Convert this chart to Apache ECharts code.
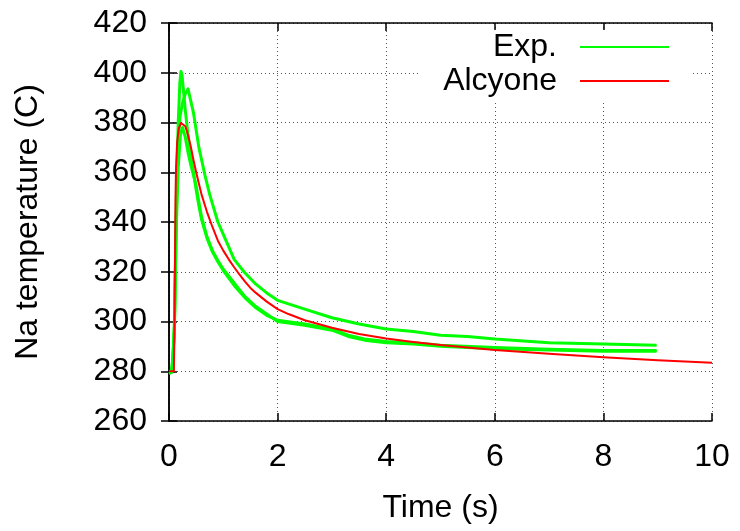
<!DOCTYPE html>
<html>
<head>
<meta charset="utf-8">
<script src="https://cdn.jsdelivr.net/npm/echarts@6/dist/echarts.min.js"></script>
<style>html,body{margin:0;padding:0;background:#fff;}#c{width:740px;height:531px;}</style>
</head>
<body>
<div id="c"></div>
<script>
// ---- data (time s, Na temperature C) ----
const xTicks = [0, 2, 4, 6, 8, 10];
const yTicks = [260, 280, 300, 320, 340, 360, 380, 400, 420];

const expRunA = [[0,279.5],[0.04,279.5],[0.06,283],[0.1,296],[0.12,325],[0.14,355],[0.17,380],[0.2,396],[0.22,400.5],[0.24,399],[0.27,392],[0.3,385],[0.35,375],[0.4,366.5],[0.45,360],[0.5,353],[0.55,346.5],[0.6,341],[0.7,333.5],[0.8,328],[0.9,324],[1.0,320.5],[1.2,314.5],[1.4,309.5],[1.6,305.5],[1.8,302.5],[2.0,300.5],[2.5,299],[3.0,297],[3.3,294.5],[3.6,293],[4.0,292],[4.5,291.5],[5.0,290.5],[6.0,289.5],[7.0,288.8],[8.0,288.3],[8.98,288.3]];
const expRunB = [[0,280],[0.05,280],[0.07,284],[0.1,298],[0.12,322],[0.14,348],[0.17,372],[0.2,382],[0.25,388],[0.3,391.5],[0.35,393.5],[0.38,393],[0.45,384],[0.55,370],[0.66,359],[0.75,351],[0.9,340],[1.0,335],[1.2,325],[1.38,320],[1.6,315],[1.8,311.5],[2.0,308.5],[2.5,305],[3.0,301.5],[3.5,299],[4.0,297],[4.5,296],[5.0,294.5],[5.5,294],[6.0,293],[7.0,291.5],[8.0,291],[8.98,290.5]];
const expRunC = [[0,279],[0.05,279.5],[0.07,283],[0.1,300],[0.13,335],[0.17,362],[0.21,375],[0.25,378],[0.3,374],[0.35,368],[0.4,363],[0.45,359],[0.5,354.5],[0.55,348],[0.6,342],[0.7,334],[0.8,328.5],[0.9,324.5],[1.0,321],[1.2,315.5],[1.4,310],[1.6,306],[1.8,303],[2.0,300],[2.5,298.5],[3.0,296.5],[3.3,294],[3.6,292.5],[4.0,291.5],[4.5,291],[5.0,290],[6.0,289],[7.0,288.5],[8.0,288],[8.98,288]];
const alcyone = [[0,280],[0.09,280],[0.1,295],[0.11,325],[0.12,350],[0.13,362],[0.15,372],[0.18,377.5],[0.22,379.8],[0.25,380],[0.3,378.5],[0.35,375],[0.4,370.5],[0.45,365],[0.5,360],[0.55,355.5],[0.6,351],[0.7,344],[0.8,338],[0.9,332.5],[1.0,328.5],[1.1,325],[1.2,321.8],[1.3,318.8],[1.4,316],[1.5,313.5],[1.6,311.5],[1.8,308],[2.0,305],[2.2,303],[2.5,300.5],[2.75,299],[3.0,297.5],[3.5,295],[4.0,293.2],[4.5,291.8],[5.0,290.6],[5.5,289.5],[6.0,288.5],[7.0,287],[8.0,285.6],[9.0,284.4],[10.0,283.4]];

const FONT = 'Liberation Sans';
const GREEN = '#00ff00';
const RED = '#ff0000';

const chart = echarts.init(document.getElementById('c'), null, {renderer: 'canvas'});
const gridLine = {show: true, lineStyle: {color: '#555', type: [1, 3], width: 1}};
const axisLineStyle = {show: true, lineStyle: {color: '#000', width: 1.5}};

function expSeries(data) {
  return {name: 'Exp.', type: 'line', data: data, symbol: 'none',
    lineStyle: {color: GREEN, width: 3, join: 'round'}, itemStyle: {color: GREEN}, z: 2};
}

chart.setOption({
  animation: false,
  backgroundColor: '#fff',
  grid: {left: 169, right: 28, top: 23, bottom: 110},
  legend: {
    data: [{name: 'Exp.'}, {name: 'Alcyone'}],
    orient: 'vertical', align: 'right',
    right: 50, top: 30,
    padding: [1, 21, 3, 24],
    backgroundColor: '#fff',
    icon: 'rect',
    itemWidth: 89, itemHeight: 2, itemGap: 2,
    textStyle: {fontFamily: FONT, fontSize: 32, color: '#000', lineHeight: 32, padding: [0, 18, 0, 0]}
  },
  xAxis: [{
    type: 'value', min: xTicks[0], max: xTicks[xTicks.length - 1], interval: 2,
    name: 'Time (s)', nameLocation: 'middle', nameGap: 71,
    nameTextStyle: {fontFamily: FONT, fontSize: 32, color: '#000'},
    axisLine: axisLineStyle,
    axisTick: {show: true, inside: true, length: 8, lineStyle: {color: '#000', width: 1.5}},
    axisLabel: {fontFamily: FONT, fontSize: 32, color: '#000', margin: 20},
    splitLine: gridLine
  }, {
    type: 'value', position: 'top', min: xTicks[0], max: xTicks[xTicks.length - 1], interval: 2,
    axisLine: axisLineStyle,
    axisTick: {show: true, inside: true, length: 8, lineStyle: {color: '#000', width: 1.5}},
    axisLabel: {show: false}, splitLine: {show: false}
  }],
  yAxis: [{
    type: 'value', min: yTicks[0], max: yTicks[yTicks.length - 1], interval: 20,
    name: 'Na temperature (C)', nameLocation: 'middle', nameGap: 125,
    nameTextStyle: {fontFamily: FONT, fontSize: 32, color: '#000'},
    axisLine: axisLineStyle,
    axisTick: {show: true, inside: true, length: 8, lineStyle: {color: '#000', width: 1.5}},
    axisLabel: {fontFamily: FONT, fontSize: 32, color: '#000', margin: 22},
    splitLine: gridLine
  }, {
    type: 'value', position: 'right', min: yTicks[0], max: yTicks[yTicks.length - 1], interval: 20,
    axisLine: axisLineStyle,
    axisTick: {show: true, inside: true, length: 8, lineStyle: {color: '#000', width: 1.5}},
    axisLabel: {show: false}, splitLine: {show: false}
  }],
  series: [
    expSeries(expRunA),
    expSeries(expRunB),
    expSeries(expRunC),
    {name: 'Alcyone', type: 'line', data: alcyone, symbol: 'none',
      lineStyle: {color: RED, width: 2, join: 'round'}, itemStyle: {color: RED}, z: 3}
  ]
});
</script>
</body>
</html>
